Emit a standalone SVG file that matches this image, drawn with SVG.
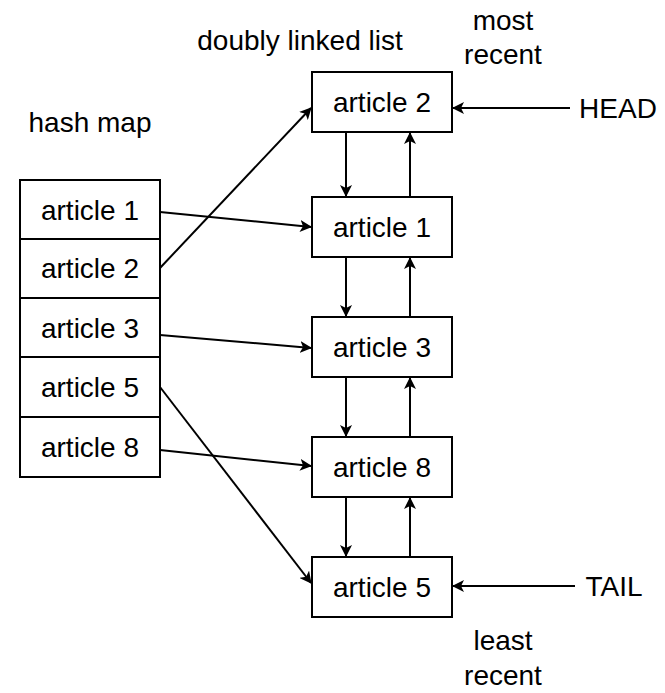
<svg xmlns="http://www.w3.org/2000/svg" width="665" height="693" viewBox="0 0 665 693">
<style>
rect{fill:#fff;stroke:#000;stroke-width:2}
text{font-family:"Liberation Sans",Arial,sans-serif;font-size:28px;fill:#000;text-anchor:middle;dominant-baseline:central}
.c line{stroke:#000;stroke-width:2;marker-end:url(#a)}
</style>
<defs><marker id="a" markerWidth="12" markerHeight="12" refX="11" refY="6" orient="auto" markerUnits="userSpaceOnUse"><path d="M0,0L12,6L0,12L3,6Z" fill="#000"/></marker></defs>
<text x="300" y="40">doubly linked list</text>
<text x="503" y="20">most</text><text x="503" y="54">recent</text>
<text x="90" y="122">hash map</text>
<text x="503" y="640">least</text><text x="503" y="675">recent</text>
<text x="618" y="108">HEAD</text>
<text x="614" y="586">TAIL</text>
<g id="hm1"><rect x="20" y="180" width="140" height="59"/><text x="90" y="210">article 1</text></g>
<g id="hm2"><rect x="20" y="239" width="140" height="59"/><text x="90" y="268">article 2</text></g>
<g id="hm3"><rect x="20" y="298" width="140" height="59"/><text x="90" y="328">article 3</text></g>
<g id="hm5"><rect x="20" y="357" width="140" height="60"/><text x="90" y="387">article 5</text></g>
<g id="hm8"><rect x="20" y="417" width="140" height="60"/><text x="90" y="447">article 8</text></g>
<g id="l2"><rect x="312" y="72" width="140" height="60"/><text x="382" y="102">article 2</text></g>
<g id="l1"><rect x="312" y="197" width="140" height="60"/><text x="382" y="227">article 1</text></g>
<g id="l3"><rect x="312" y="317" width="140" height="60"/><text x="382" y="347">article 3</text></g>
<g id="l8"><rect x="312" y="437" width="140" height="60"/><text x="382" y="467">article 8</text></g>
<g id="l5"><rect x="312" y="557" width="140" height="60"/><text x="382" y="587">article 5</text></g>
<g class="c">
<line x1="346" y1="132" x2="346" y2="196"/><line x1="410" y1="196" x2="410" y2="133"/>
<line x1="346" y1="257" x2="346" y2="316"/><line x1="410" y1="316" x2="410" y2="258"/>
<line x1="346" y1="377" x2="346" y2="436"/><line x1="410" y1="436" x2="410" y2="378"/>
<line x1="346" y1="497" x2="346" y2="556"/><line x1="410" y1="556" x2="410" y2="498"/>
<line x1="160" y1="212" x2="311" y2="227"/>
<line x1="160" y1="268" x2="311" y2="108"/>
<line x1="160" y1="335" x2="311" y2="348"/>
<line x1="160" y1="387" x2="311" y2="583"/>
<line x1="160" y1="450" x2="311" y2="466"/>
<line x1="570" y1="108" x2="453" y2="108"/>
<line x1="575" y1="586" x2="453" y2="586"/>
</g>
</svg>
